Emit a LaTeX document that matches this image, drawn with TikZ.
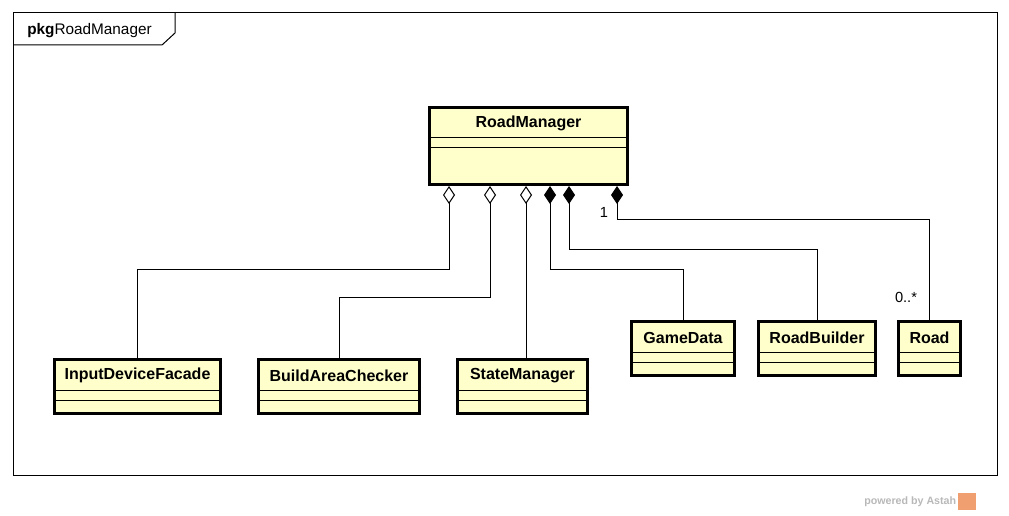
\documentclass[tikz,border=0pt]{standalone}
\usepackage{fontspec}
\setmainfont{Liberation Sans}
\usetikzlibrary{arrows.meta,calc}
\definecolor{clsfill}{RGB}{255,255,204}
\definecolor{astah}{RGB}{240,160,112}

\begin{document}
\begin{tikzpicture}[x=0.75pt,y=-0.75pt,
    cls/.style={draw, line width=2.25pt, fill=clsfill, inner sep=0pt},
    clsname/.style={font=\bfseries\fontsize{12}{14}\selectfont, inner sep=0pt},
    sep/.style={line width=0.75pt},
    agg/.style={line width=0.75pt, {Diamond[fill=white,length=13.5pt,width=9pt]}-},
    comp/.style={line width=0.75pt, {Diamond[length=13.5pt,width=9pt]}-},
    mult/.style={font=\fontsize{11}{13}\selectfont, inner sep=0pt}]
    \useasboundingbox (0,0) rectangle (1009,516);
    % package frame
    \draw[line width=0.75pt] (13,13) rectangle (997,475);
    \draw[line width=0.75pt] (13,45) -- (162,45) -- (175,33) -- (175,13);
    \node[anchor=west, inner sep=0pt] (pkg) at (27,31) {\fontsize{11.5}{13}\selectfont\textbf{pkg}RoadManager};
    % classes
    \node[cls, minimum width=148.5pt, minimum height=57.75pt] (RoadManager) at (528.5,146) {};
    \node[cls, minimum width=124.5pt, minimum height=40.5pt] (InputDeviceFacade) at (137.5,386.5) {};
    \node[cls, minimum width=120.75pt, minimum height=40.5pt] (BuildAreaChecker) at (339,386.5) {};
    \node[cls, minimum width=97.5pt, minimum height=40.5pt] (StateManager) at (522.5,386.5) {};
    \node[cls, minimum width=77.25pt, minimum height=40.5pt] (GameData) at (683,348.5) {};
    \node[cls, minimum width=87.75pt, minimum height=40.5pt] (RoadBuilder) at (817,348.5) {};
    \node[cls, minimum width=46.5pt, minimum height=40.5pt] (Road) at (929.5,348.5) {};
    \foreach \c in {RoadManager,InputDeviceFacade,BuildAreaChecker,StateManager,GameData,RoadBuilder,Road} {
        \draw[sep] ($(\c.north west)+(0,32)$) -- ($(\c.north east)+(0,32)$);
        \draw[sep] ($(\c.north west)+(0,42)$) -- ($(\c.north east)+(0,42)$);
        \node[clsname] (\c-name) at ($(\c.north)+(0,17.5)$) {\c};
    }
    % aggregations
    \draw[agg] ($(RoadManager.south)+(-79.5,0)$) -- ++(0,84) -| (InputDeviceFacade.north);
    \draw[agg] ($(RoadManager.south)+(-38.5,0)$) -- ++(0,112) -| (BuildAreaChecker.north);
    \coordinate (d3) at ($(RoadManager.south)+(-2.5,0)$);
    \draw[agg] (d3) -- (d3 |- StateManager.north);
    % compositions
    \draw[comp] ($(RoadManager.south)+(21.5,0)$) -- ++(0,84) -| (GameData.north);
    \draw[comp] ($(RoadManager.south)+(40.5,0)$) -- ++(0,64) -| (RoadBuilder.north);
    \draw[comp] ($(RoadManager.south)+(88.5,0)$) -- ++(0,34) -| (Road.north);
    \node[mult] (m1) at (604,212) {1};
    \node[mult] (m2) at (906,297) {0..*};
    % watermark
    \node[anchor=west, inner sep=0pt, text=black!28, font=\bfseries\fontsize{8}{9}\selectfont] (pw) at (864,502) {powered by Astah};
    \node[fill=astah, inner sep=0pt, minimum width=13.5pt, minimum height=12.75pt] (logo) at (967,501.5) {};
\end{tikzpicture}
\end{document}
